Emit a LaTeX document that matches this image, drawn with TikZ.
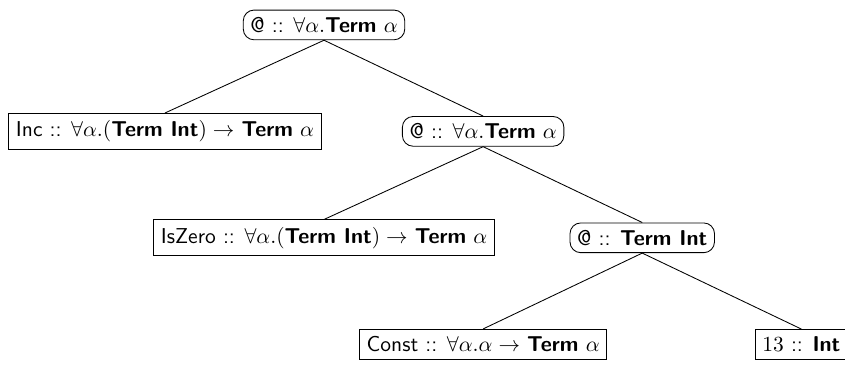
\documentclass[tikz,border=0pt]{standalone}
\usepackage{amsmath}
\renewcommand{\familydefault}{\sfdefault}

\tikzset{
  app/.style={draw, rounded corners=5pt},
  leaf/.style={draw},
}
\newcommand{\tyk}[1]{\textbf{#1}}

\begin{document}
\begin{tikzpicture}[level distance=49.5pt, sibling distance=148pt,
    parent anchor=south, child anchor=north]
  \useasboundingbox (0,0) rectangle (393pt,-170.7pt);
      \node[app] (root) at (150.7pt,-11.6pt) {@ :: $\forall\alpha.$\tyk{Term} $\alpha$}
        child { node[leaf] (inc) {Inc :: $\forall\alpha.($\tyk{Term Int}$)\to$ \tyk{Term} $\alpha$} }
        child { node[app] (app1) {@ :: $\forall\alpha.$\tyk{Term} $\alpha$}
          child { node[leaf] (iszero) {IsZero :: $\forall\alpha.($\tyk{Term Int}$)\to$ \tyk{Term} $\alpha$} }
          child { node[app] (app2) {@ :: \tyk{Term Int}}
            child { node[leaf] (const) {Const :: $\forall\alpha.\alpha\to$ \tyk{Term} $\alpha$} }
            child { node[leaf] (lit) {$13$ :: \tyk{Int}} } } };
    \end{tikzpicture}
\end{document}
